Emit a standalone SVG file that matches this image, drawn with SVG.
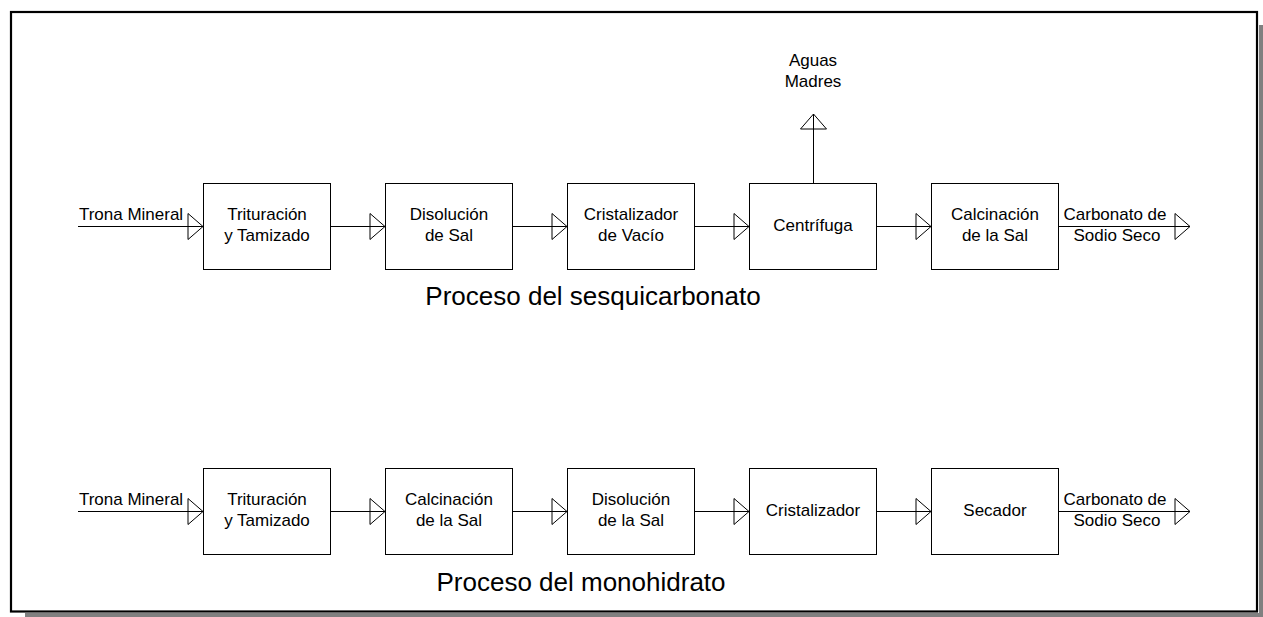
<svg xmlns="http://www.w3.org/2000/svg" width="1263" height="617" viewBox="0 0 1263 617">
<style>
.box{fill:#fff;stroke:#000;stroke-width:1}
.ln{fill:none;stroke:#000;stroke-width:1}
text{font-family:"Liberation Sans",Arial,sans-serif;font-size:17px;fill:#000;text-anchor:middle}
.title{font-size:26px}
</style>
<defs>
<marker id="ah" markerUnits="userSpaceOnUse" markerWidth="18" markerHeight="30" refX="15" refY="13" orient="auto" overflow="visible">
<path d="M0,0 L15,13 L0,26 Z" fill="none" stroke="#000" stroke-width="1"/>
</marker>
</defs>
<rect x="0" y="0" width="1263" height="617" fill="#fff"/>
<g id="frame">
<rect x="25" y="613" width="1238" height="4" fill="#808080"/>
<rect x="1259" y="25" width="4" height="592" fill="#808080"/>
<rect x="11" y="12" width="1246" height="599.5" fill="none" stroke="#000" stroke-width="2.2"/>
</g>
<g id="connectors">
<line class="ln" x1="78" y1="226.5" x2="203" y2="226.5" marker-end="url(#ah)"/>
<line class="ln" x1="330" y1="226.5" x2="385" y2="226.5" marker-end="url(#ah)"/>
<line class="ln" x1="512" y1="226.5" x2="567" y2="226.5" marker-end="url(#ah)"/>
<line class="ln" x1="694" y1="226.5" x2="749" y2="226.5" marker-end="url(#ah)"/>
<line class="ln" x1="876" y1="226.5" x2="931" y2="226.5" marker-end="url(#ah)"/>
<line class="ln" x1="1058" y1="226.5" x2="1190" y2="226.5" marker-end="url(#ah)"/>
<line class="ln" x1="813.5" y1="183" x2="813.5" y2="114" marker-end="url(#ah)"/>
<line class="ln" x1="78" y1="511.5" x2="203" y2="511.5" marker-end="url(#ah)"/>
<line class="ln" x1="330" y1="511.5" x2="385" y2="511.5" marker-end="url(#ah)"/>
<line class="ln" x1="512" y1="511.5" x2="567" y2="511.5" marker-end="url(#ah)"/>
<line class="ln" x1="694" y1="511.5" x2="749" y2="511.5" marker-end="url(#ah)"/>
<line class="ln" x1="876" y1="511.5" x2="931" y2="511.5" marker-end="url(#ah)"/>
<line class="ln" x1="1058" y1="511.5" x2="1190" y2="511.5" marker-end="url(#ah)"/>
</g>
<g id="labels">
<text x="131" y="220">Trona Mineral</text>
<text x="1115" y="220">Carbonato de</text>
<text x="1117" y="241">Sodio Seco</text>
<text x="813" y="66">Aguas</text>
<text x="813" y="87">Madres</text>
<text x="131" y="505">Trona Mineral</text>
<text x="1115" y="505">Carbonato de</text>
<text x="1117" y="526">Sodio Seco</text>
<text class="title" x="593" y="305">Proceso del sesquicarbonato</text>
<text class="title" x="581" y="591">Proceso del monohidrato</text>
</g>
<g id="n1"><rect class="box" x="203.5" y="183.5" width="127" height="86"/><text x="267" y="220">Trituración</text><text x="267" y="241">y Tamizado</text></g>
<g id="n2"><rect class="box" x="385.5" y="183.5" width="127" height="86"/><text x="449" y="220">Disolución</text><text x="449" y="241">de Sal</text></g>
<g id="n3"><rect class="box" x="567.5" y="183.5" width="127" height="86"/><text x="631" y="220">Cristalizador</text><text x="631" y="241">de Vacío</text></g>
<g id="n4"><rect class="box" x="749.5" y="183.5" width="127" height="86"/><text x="813" y="231">Centrífuga</text></g>
<g id="n5"><rect class="box" x="931.5" y="183.5" width="127" height="86"/><text x="995" y="220">Calcinación</text><text x="995" y="241">de la Sal</text></g>
<g id="m1"><rect class="box" x="203.5" y="468.5" width="127" height="86"/><text x="267" y="505">Trituración</text><text x="267" y="526">y Tamizado</text></g>
<g id="m2"><rect class="box" x="385.5" y="468.5" width="127" height="86"/><text x="449" y="505">Calcinación</text><text x="449" y="526">de la Sal</text></g>
<g id="m3"><rect class="box" x="567.5" y="468.5" width="127" height="86"/><text x="631" y="505">Disolución</text><text x="631" y="526">de la Sal</text></g>
<g id="m4"><rect class="box" x="749.5" y="468.5" width="127" height="86"/><text x="813" y="516">Cristalizador</text></g>
<g id="m5"><rect class="box" x="931.5" y="468.5" width="127" height="86"/><text x="995" y="516">Secador</text></g>
</svg>
